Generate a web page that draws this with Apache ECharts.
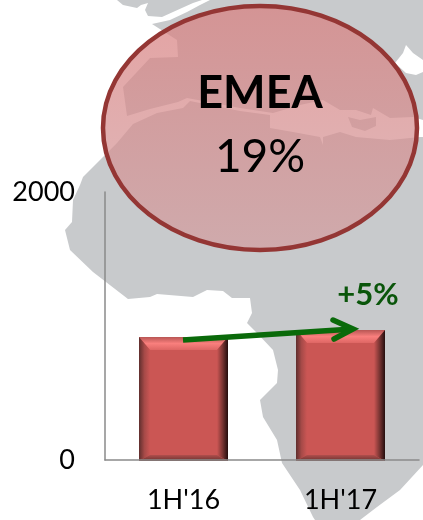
<!DOCTYPE html>
<html><head><meta charset="utf-8">
<style>html,body{margin:0;padding:0;background:#fff}#c{width:423px;height:520px}</style>
<script src="https://cdn.jsdelivr.net/npm/echarts@6/dist/echarts.min.js"></script>
</head><body><div id="c"></div>
<script>
const categories = ["1H'16", "1H'17"];
const revenue = [918, 970];
const yTicks = [0, 2000];
const regionName = "EMEA";
const regionShare = "19%";
const growthLabel = "+5%";

const GRAY = '#c8cacc';
const iberiaCoast = [[117,0],[123,5],[137,8],[141,5],[148,3],[145,10],[148,16],[162,17],[173,12],[193,3],[202,0]];
const europeCoast = [[152,24],[170,20],[187,12],[200,5],[210,0],[423,0],[423,120],[413,117],[390,118],[373,108],[371,115],[356,110],[340,110],[323,100],[300,105],[273,113],[240,108],[187,98],[178,102],[150,109],[127,116],[123,87],[150,58],[178,57],[177,40]];
const blackSea = [[406,45],[403,53],[395,63],[406,73],[416,75],[423,72],[423,60],[413,53]];
const aegean = [[348,117],[360,120],[376,117],[376,126],[365,131],[352,127]];
const africaCoast = [[423,137],[420,137],[390,140],[356,137],[340,132],[323,137],[323,145],[320,137],[293,132],[270,128],[270,115],[240,111],[190,101],[183,108],[157,113],[133,124],[117,143],[103,157],[83,177],[80,185],[73,200],[72,222],[65,230],[70,250],[93,272],[128,299],[150,297],[157,294],[193,297],[207,290],[223,291],[232,298],[250,298],[252,313],[247,323],[257,333],[273,350],[278,370],[277,383],[260,400],[263,417],[277,440],[282,463],[300,490],[313,517],[315,520],[360,520],[377,507],[400,490],[423,465]];

const BAR_W = 89;
function grad(x, y, x2, y2, ...cols) {
  return {type:'linear', x, y, x2, y2, colorStops:cols.map((color,i)=>({offset:i/(cols.length-1),color}))};
}
function renderBar(params, api) {
  const top = api.coord([api.value(0), api.value(1)]);
  const base = api.coord([api.value(0), 0]);
  const l = top[0] - BAR_W / 2, r = top[0] + BAR_W / 2, t = top[1], b = base[1] + 1;
  const bx = 11, bt = 13, bb = 6;
  const poly = (points, fill) => ({type:'polygon', shape:{points}, style:{fill}});
  return {type:'group', children:[
    poly([[l,t],[r,t],[r,b],[l,b]], '#cb5654'),
    poly([[l,t],[r,t],[r-bx,t+bt],[l+bx,t+bt]], grad(0,0,0,1,'#b85654','#f97f7d','#de6664')),
    poly([[l,t],[l+bx,t+bt],[l+bx,b-bb],[l,b]], grad(0,0,1,0,'#5f2e2d','#a64a48','#cb5654')),
    poly([[r,t],[r-bx,t+bt],[r-bx,b-bb],[r,b]], grad(0,0,1,0,'#cb5654','#7a3533','#240d0d')),
    poly([[l,b],[r,b],[r-bx,b-bb],[l+bx,b-bb]], grad(0,0,0,1,'#b04e4c','#6a3230'))
  ]};
}
const bg = (points, fill) => ({type:'polygon', z:-10, shape:{points}, style:{fill}});
const chart = echarts.init(document.getElementById('c'), null, {renderer:'canvas'});
chart.setOption({
  animation:false,
  backgroundColor:'#fff',
  grid:{left:105, top:192, width:314, height:268},
  xAxis:{type:'category', data:categories, z:5,
    axisLine:{lineStyle:{color:'#8a8a8a', width:1.5}}, axisTick:{show:false},
    axisLabel:{color:'#000', fontFamily:'Lato', fontSize:27, margin:27}},
  yAxis:{type:'value', min:yTicks[0], max:yTicks[1], interval:yTicks[1]-yTicks[0], z:5,
    splitLine:{show:false}, axisTick:{show:false},
    axisLine:{show:true, lineStyle:{color:'#8a8a8a', width:1.5}},
    axisLabel:{color:'#000', fontFamily:'Lato', fontSize:27, margin:30, formatter:(v)=>String(v)}},
  series:[{type:'custom', renderItem:renderBar, clip:false,
    encode:{x:0,y:1}, data:categories.map((c,i)=>[i,revenue[i]])}],
  graphic:[
    bg(iberiaCoast, GRAY), bg(europeCoast, GRAY), bg(blackSea, '#fff'),
    bg(africaCoast, GRAY), bg(aegean, GRAY),
    {type:'ellipse', z:10, shape:{cx:260, cy:128, rx:157, ry:122},
      style:{fill:grad(0,0,0,1,'rgba(217,127,127,0.72)','rgba(210,158,160,0.72)'), stroke:'#943634', lineWidth:4.5}},
    {type:'text', z:11, style:{x:260, y:93, text:regionName, fill:'#000', font:'bold 45px Lato', textAlign:'center', textVerticalAlign:'middle'}},
    {type:'text', z:11, style:{x:260, y:157, text:regionShare, fill:'#000', font:'46px Lato', textAlign:'center', textVerticalAlign:'middle'}},
    {type:'text', z:11, style:{x:368, y:295, text:growthLabel, fill:'#0a550a', font:'bold 31px Lato', textAlign:'center', textVerticalAlign:'middle'}},
    {type:'polyline', z:11, shape:{points:[[183,340],[353,329]]}, style:{stroke:'#0a6a0a', lineWidth:5.5, fill:null}},
    {type:'polyline', z:11, shape:{points:[[333,320],[353,329],[334,339]]}, style:{stroke:'#0a6a0a', lineWidth:5.5, fill:null, lineCap:'round', lineJoin:'miter'}}
  ]
});
</script></body></html>
